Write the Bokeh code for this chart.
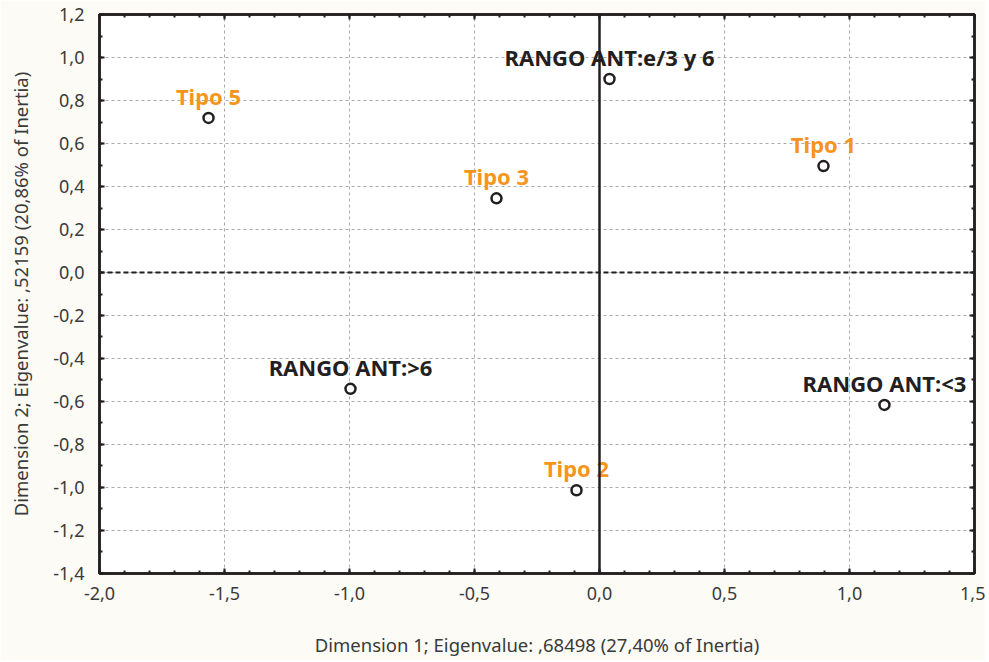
from bokeh.plotting import figure
from bokeh.models import (ColumnDataSource, LinearAxis, CustomJSTickFormatter, Span,
                          SingleIntervalTicker, Range1d)
from bokeh.core.properties import value
from bokeh.embed import file_html
from bokeh.resources import INLINE

labels = ["RANGO ANT:e/3 y 6", "Tipo 5", "Tipo 1", "Tipo 3", "RANGO ANT:>6", "RANGO ANT:<3", "Tipo 2"]
dim1 = [0.04, -1.564, 0.896, -0.412, -0.996, 1.14, -0.092]
dim2 = [0.90, 0.719, 0.495, 0.345, -0.541, -0.616, -1.013]
groups = ["rango", "tipo", "tipo", "tipo", "rango", "rango", "tipo"]
group_colors = {"rango": "#231f20", "tipo": "#f7941d"}

x_label = "Dimension 1; Eigenvalue: ,68498 (27,40% of Inertia)"
y_label = "Dimension 2; Eigenvalue: ,52159 (20,86% of Inertia)"

src = ColumnDataSource(dict(x=dim1, y=dim2, label=labels,
                            color=[group_colors[g] for g in groups]))

BG = "#fcfbf5"
p = figure(width=985, height=660, output_backend="svg", toolbar_location=None,
           x_range=Range1d(-2.0001, 1.5001), y_range=Range1d(-1.4001, 1.2001),
           min_border_left=99, min_border_right=11, min_border_top=14, min_border_bottom=87,
           background_fill_color="white", border_fill_color=BG)
p.outline_line_color = "#231f20"
p.outline_line_width = 2.5

fmt = CustomJSTickFormatter(code="return tick.toFixed(1).replace('.', ',');")
for ax in (p.xaxis[0], p.yaxis[0]):
    ax.formatter = fmt
    ax.major_tick_in = 5
    ax.major_tick_out = 0
    ax.minor_tick_in = 3
    ax.minor_tick_out = 0
    ax.axis_line_color = "#231f20"
    ax.axis_line_width = 2.5
    ax.major_tick_line_color = "#231f20"
    ax.major_tick_line_width = 2
    ax.minor_tick_line_color = "#231f20"
    ax.minor_tick_line_width = 2
    ax.major_label_text_font = "Noto Sans"
    ax.major_label_text_font_size = "18px"
    ax.major_label_text_color = "#3a3a3a"
    ax.axis_label_text_font = "Noto Sans"
    ax.axis_label_text_font_size = "18.5px"
    ax.axis_label_text_font_style = "normal"
    ax.axis_label_text_color = "#3a3a3a"

p.xaxis[0].ticker = SingleIntervalTicker(interval=0.5, num_minor_ticks=5)
p.yaxis[0].ticker = SingleIntervalTicker(interval=0.2, num_minor_ticks=2)
p.xaxis[0].axis_label = x_label
p.yaxis[0].axis_label = y_label
p.xaxis[0].major_label_standoff = 13
p.yaxis[0].major_label_standoff = 15
p.xaxis[0].axis_label_standoff = 29
p.yaxis[0].axis_label_standoff = 17

for loc, interval, nminor in (("above", 0.5, 5), ("right", 0.2, 2)):
    ax = LinearAxis(ticker=SingleIntervalTicker(interval=interval, num_minor_ticks=nminor))
    ax.major_label_text_font_size = "0px"
    ax.major_label_standoff = 0
    ax.major_tick_in = 5
    ax.major_tick_out = 0
    ax.minor_tick_in = 3
    ax.minor_tick_out = 0
    ax.axis_line_color = "#231f20"
    ax.axis_line_width = 2.5
    ax.major_tick_line_color = "#231f20"
    ax.major_tick_line_width = 2
    ax.minor_tick_line_color = "#231f20"
    ax.minor_tick_line_width = 2
    p.add_layout(ax, loc)

p.xgrid.ticker = SingleIntervalTicker(interval=0.5)
p.ygrid.ticker = SingleIntervalTicker(interval=0.2)
for g in (p.xgrid[0], p.ygrid[0]):
    g.grid_line_color = "#aaaaaa"
    g.grid_line_dash = "3 3"
    g.grid_line_width = 1

p.add_layout(Span(location=0, dimension="width", line_color="#231f20",
                  line_width=2, line_dash="5 3"))
p.add_layout(Span(location=0, dimension="height", line_color="#231f20", line_width=2.5))

p.scatter("x", "y", source=src, size=10, fill_color="white", line_color="#231f20",
          line_width=2.5)
p.text("x", "y", text="label", source=src, text_color="color",
       text_font=value("Noto Sans"), text_font_style="bold", text_font_size="22px",
       text_align="center", text_baseline="bottom", y_offset=-7)

open("out.html", "w").write(file_html(p, INLINE))
